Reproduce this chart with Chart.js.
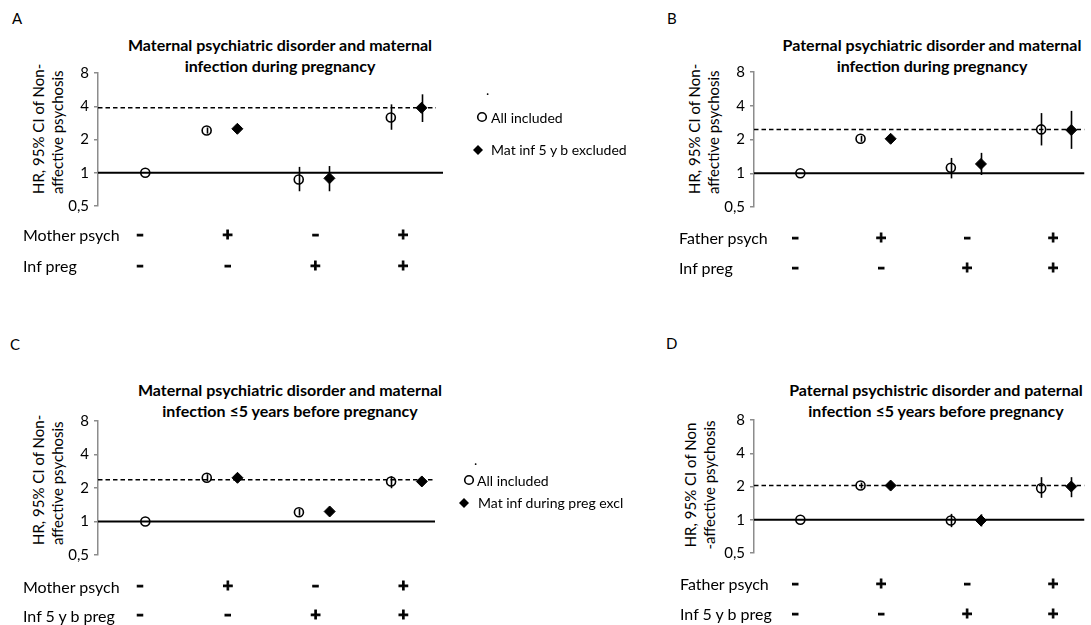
<!DOCTYPE html>
<html>
<head>
<meta charset="utf-8">
<script src="https://cdn.jsdelivr.net/npm/chart.js@4/dist/chart.umd.min.js"></script>
<style>
  body { margin: 0; background: #fff; }
  #page { position: relative; width: 1091px; height: 625px; overflow: hidden; font-family: Lato, sans-serif; color: #000; }
  #page canvas, .t, svg { position: absolute; }
  .t { white-space: nowrap; line-height: 20px; }
  .lettre { font-size: 15px; }
  .titre { font-weight: bold; font-size: 16px; line-height: 20.5px; width: 440px; text-align: center; }
  .ligne { font-size: 16px; }
  .leg { font-size: 14px; }
  .titreY { font-size: 15px; line-height: 19px; transform: rotate(-90deg); transform-origin: 0 0; }
</style>
</head>
<body>
<div id="page">
  <!-- Lettres des panneaux -->
  <div class="t lettre" style="left:12px;top:8px">A</div>
  <div class="t lettre" style="left:667px;top:8px">B</div>
  <div class="t lettre" style="left:10px;top:334px">C</div>
  <div class="t lettre" style="left:666px;top:333px">D</div>

  <!-- Titres -->
  <div class="t titre" style="left:60px;top:35px">Maternal psychiatric disorder and maternal<br>infection during pregnancy</div>
  <div class="t titre" style="left:712px;top:35px">Paternal psychiatric disorder and maternal<br>infection during pregnancy</div>
  <div class="t titre" style="left:70px;top:380px">Maternal psychiatric disorder and maternal<br>infection ≤5 years before pregnancy</div>
  <div class="t titre" style="left:716px;top:380px">Paternal psychistric disorder and paternal<br>infection ≤5 years before pregnancy</div>

  <!-- Titres de l'axe y -->
  <div class="t titreY" style="left:29px;top:194px">HR, 95% CI of Non-<br>affective psychosis</div>
  <div class="t titreY" style="left:685px;top:194px">HR, 95% CI of Non-<br>affective psychosis</div>
  <div class="t titreY" style="left:29px;top:545px">HR, 95% CI of Non-<br>affective psychosis</div>
  <div class="t titreY" style="left:681px;top:555px;width:140px;text-align:center">HR, 95% CI of Non<br>-affective psychosis</div>

  <canvas id="grA" style="left:0;top:0" width="545" height="300"></canvas>
  <canvas id="grB" style="left:656px;top:0" width="435" height="300"></canvas>
  <canvas id="grC" style="left:0;top:320px" width="545" height="305"></canvas>
  <canvas id="grD" style="left:656px;top:320px" width="435" height="305"></canvas>

  <!-- Libellés des lignes de signes -->
  <div class="t ligne" style="left:23px;top:225px">Mother psych</div>
  <div class="t ligne" style="left:23px;top:256px">Inf preg</div>
  <div class="t ligne" style="left:679px;top:228px">Father psych</div>
  <div class="t ligne" style="left:679px;top:258px">Inf preg</div>
  <div class="t ligne" style="left:23px;top:577px">Mother psych</div>
  <div class="t ligne" style="left:23px;top:606px">Inf 5 y b preg</div>
  <div class="t ligne" style="left:680px;top:574px">Father psych</div>
  <div class="t ligne" style="left:680px;top:604px">Inf 5 y b preg</div>

  <!-- Légendes -->
  <div class="t leg" style="left:486px;top:80px">.</div>
  <svg style="left:476px;top:111px" width="12" height="12"><circle cx="6" cy="6" r="4.3" fill="none" stroke="#000" stroke-width="1.6"/></svg>
  <div class="t leg" style="left:491px;top:108px">All included</div>
  <svg style="left:472px;top:144px" width="12" height="12"><polygon points="6,1 11,6 6,11 1,6" fill="#000"/></svg>
  <div class="t leg" style="left:491px;top:140px">Mat inf 5 y b excluded</div>

  <div class="t leg" style="left:474px;top:450px">.</div>
  <svg style="left:463px;top:474px" width="12" height="12"><circle cx="6" cy="6" r="4.3" fill="none" stroke="#000" stroke-width="1.6"/></svg>
  <div class="t leg" style="left:477px;top:471px">All included</div>
  <svg style="left:458px;top:497px" width="12" height="12"><polygon points="6,1 11,6 6,11 1,6" fill="#000"/></svg>
  <div class="t leg" style="left:478px;top:493px">Mat inf during preg excl</div>
</div>

<script>
// Position des groupes sur l'axe x (1..4 = colonnes des signes)
const xCercle = [1.06, 1.76, 2.81, 3.86];
const xLosange = [null, 2.11, 3.16, 4.21];
const signes1 = ['–', '+', '–', '+'];
const signes2 = ['–', '–', '+', '+'];
const yTicks = [0.5, 1, 2, 4, 8];
const yTickLabels = ['0,5', '1', '2', '4', '8'];

// A : psy mère + infection pendant la grossesse
const aCercle = [1, 2.41, 0.87, 3.16];
const aCercleBas = [null, 2.26, 0.68, 2.45];
const aCercleHaut = [null, 2.57, 1.13, 4.16];
const aLosange = [null, 2.50, 0.89, 3.87];
const aLosangeBas = [null, 2.36, 0.68, 2.88];
const aLosangeHaut = [null, 2.64, 1.15, 5.13];
const aRef = 3.87;

// B : psy père + infection pendant la grossesse
const bCercle = [1, 2.03, 1.12, 2.46];
const bCercleBas = [null, 1.91, 0.90, 1.77];
const bCercleHaut = [null, 2.16, 1.37, 3.44];
const bLosange = [null, 2.03, 1.21, 2.43];
const bLosangeBas = [null, 1.92, 0.965, 1.65];
const bLosangeHaut = [null, 2.14, 1.52, 3.6];
const bRef = 2.46;

// C : psy mère + infection <=5 ans avant
const cCercle = [1, 2.47, 1.21, 2.29];
const cCercleBas = [null, 2.30, 1.13, 1.99];
const cCercleHaut = [null, 2.66, 1.30, 2.55];
const cLosange = [null, 2.47, 1.23, 2.29];
const cLosangeBas = [null, 2.35, 1.17, 2.18];
const cLosangeHaut = [null, 2.60, 1.29, 2.41];
const cRef = 2.37;

// D : psy père + infection paternelle <=5 ans avant
const dCercle = [1, 2.04, 0.985, 1.93];
const dCercleBas = [null, 1.92, 0.857, 1.58];
const dCercleHaut = [null, 2.17, 1.13, 2.43];
const dLosange = [null, 2.04, 0.985, 2.0];
const dLosangeBas = [null, 1.95, 0.87, 1.6];
const dLosangeHaut = [null, 2.13, 1.12, 2.43];
const dRef = 2.04;

// Barres verticales des IC 95%
const barresErreur = {
    id: 'barresErreur',
    afterDatasetsDraw(chart) {
        const { ctx, scales: { x, y } } = chart;
        ctx.save();
        ctx.strokeStyle = '#000';
        ctx.lineWidth = 1.6;
        chart.data.datasets.forEach(ds => {
            ds.data.forEach(pt => {
                if (pt.bas == null) return;
                const px = Math.round(x.getPixelForValue(pt.x)) + 0.5;
                ctx.beginPath();
                ctx.moveTo(px, y.getPixelForValue(pt.bas));
                ctx.lineTo(px, y.getPixelForValue(pt.haut));
                ctx.stroke();
            });
        });
        ctx.restore();
    }
};

function points(xs, ys, bas, haut) {
    const res = [];
    xs.forEach((x, i) => {
        if (x == null || ys[i] == null) return;
        res.push({ x: x, y: ys[i], bas: bas[i], haut: haut[i] });
    });
    return res;
}

// Fonction pour créer un panneau
function faireGraphique(p) {
    const ctx = document.getElementById(p.canvas).getContext('2d');
    const H = ctx.canvas.height;
    const W = ctx.canvas.width;
    const hx = H - p.bottom; // hauteur de l'axe x (lignes de signes)
    new Chart(ctx, {
        type: 'scatter',
        data: {
            datasets: [
                { data: [{ x: p.xMin, y: 1 }, { x: p.xMax, y: 1 }], showLine: true, borderColor: '#000', borderWidth: 2, pointRadius: 0 },
                { data: [{ x: p.xMin, y: p.ref }, { x: p.xDash, y: p.ref }], showLine: true, borderColor: '#000', borderWidth: 1.5, borderDash: [4.5, 3], pointRadius: 0 },
                { data: points(xCercle, p.cercle, p.cercleBas, p.cercleHaut), pointStyle: 'circle', pointRadius: 4.5, borderWidth: 1.6, borderColor: '#000', backgroundColor: 'rgba(0,0,0,0)' },
                { data: points(xLosange, p.losange, p.losangeBas, p.losangeHaut), pointStyle: 'rectRot', pointRadius: 5.5, borderWidth: 1, borderColor: '#000', backgroundColor: '#000' }
            ]
        },
        options: {
            responsive: false,
            animation: false,
            devicePixelRatio: 1,
            layout: { padding: { left: 0, top: p.top, right: W - p.right, bottom: 0 } },
            plugins: { legend: { display: false }, tooltip: { enabled: false } },
            scales: {
                x: {
                    type: 'linear', min: p.xMin, max: p.xMax,
                    afterBuildTicks: s => { s.ticks = [1, 2, 3, 4].map(v => ({ value: v })); },
                    afterFit: s => { s.height = hx; },
                    ticks: {
                        autoSkip: false, maxRotation: 0, color: '#000', padding: p.padSignes,
                        textStrokeColor: '#000', textStrokeWidth: 1,
                        font: { family: 'DejaVu Sans', size: 14, weight: 'bold', lineHeight: p.ecartSignes + 'px' },
                        callback: (v, i) => [signes1[i], signes2[i]]
                    },
                    grid: { display: false, drawTicks: false },
                    border: { display: false }
                },
                y: {
                    type: 'logarithmic', min: 0.5, max: 8,
                    afterBuildTicks: s => { s.ticks = yTicks.map(v => ({ value: v })); },
                    afterFit: s => { s.width = 98; },
                    ticks: {
                        color: '#000', padding: 5,
                        font: { family: 'Lato', size: 15 },
                        callback: (v, i) => yTickLabels[i]
                    },
                    grid: { drawOnChartArea: false, tickLength: 4, color: '#8c8c8c', lineWidth: 1.5 },
                    border: { color: '#8c8c8c', width: 1.5 }
                }
            }
        },
        plugins: [barresErreur]
    });
}

faireGraphique({
    canvas: 'grA', top: 73, bottom: 206, right: 443, xMin: 0.521, xMax: 4.455, xDash: 4.375,
    padSignes: 14, ecartSignes: 31,
    cercle: aCercle, cercleBas: aCercleBas, cercleHaut: aCercleHaut,
    losange: aLosange, losangeBas: aLosangeBas, losangeHaut: aLosangeHaut, ref: aRef
});
faireGraphique({
    canvas: 'grB', top: 72, bottom: 207, right: 435, xMin: 0.521, xMax: 4.364, xDash: 4.364,
    padSignes: 16, ecartSignes: 30,
    cercle: bCercle, cercleBas: bCercleBas, cercleHaut: bCercleHaut,
    losange: bLosange, losangeBas: bLosangeBas, losangeHaut: bLosangeHaut, ref: bRef
});
faireGraphique({
    canvas: 'grC', top: 101, bottom: 235, right: 435, xMin: 0.521, xMax: 4.36, xDash: 4.35,
    padSignes: 16.5, ecartSignes: 29.5,
    cercle: cCercle, cercleBas: cCercleBas, cercleHaut: cCercleHaut,
    losange: cLosange, losangeBas: cLosangeBas, losangeHaut: cLosangeHaut, ref: cRef
});
faireGraphique({
    canvas: 'grD', top: 100, bottom: 233, right: 435, xMin: 0.521, xMax: 4.364, xDash: 4.364,
    padSignes: 16, ecartSignes: 30,
    cercle: dCercle, cercleBas: dCercleBas, cercleHaut: dCercleHaut,
    losange: dLosange, losangeBas: dLosangeBas, losangeHaut: dLosangeHaut, ref: dRef
});
</script>
</body>
</html>
